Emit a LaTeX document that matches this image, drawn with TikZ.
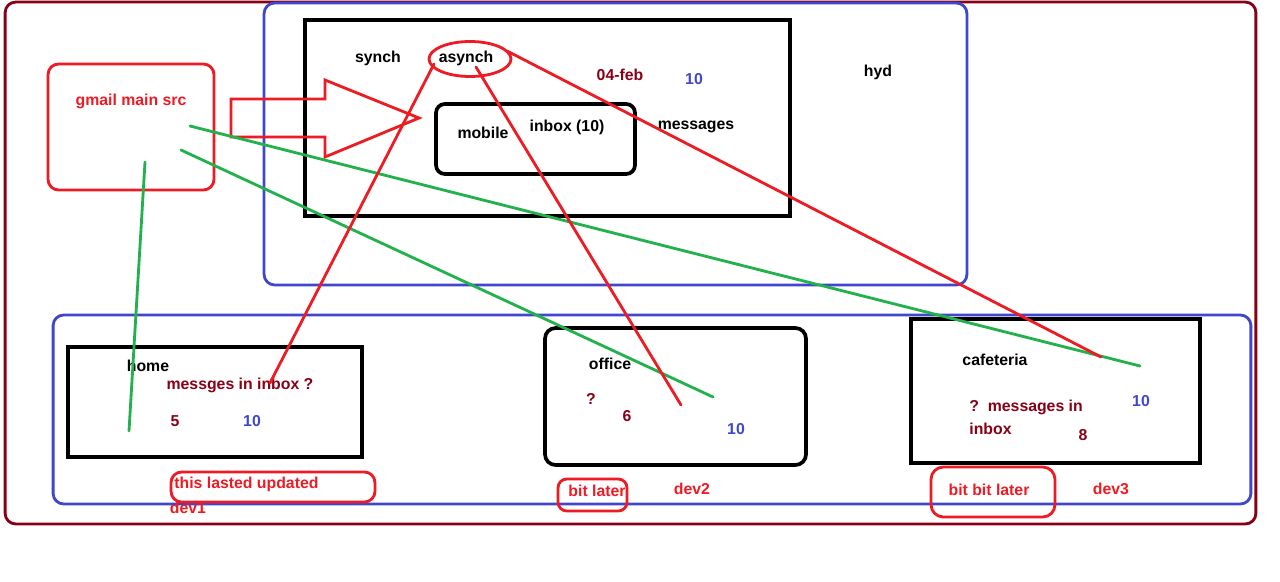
\documentclass[tikz,border=0pt]{standalone}
\usepackage{fontspec}
\setmainfont{Liberation Sans}
\usepackage{tikz}
\usetikzlibrary{shapes.geometric}
\definecolor{darkred}{HTML}{880015}
\definecolor{paintred}{HTML}{ED1C24}
\definecolor{paintblue}{HTML}{3F48CC}
\definecolor{paintgreen}{HTML}{22B14C}
\begin{document}
\begin{tikzpicture}[x=0.02cm, y=-0.02cm, line width=1.6pt,
% common options for boxes:
box/.style = {draw, rectangle, inner sep=0, outer sep=0},
% black boxes are drawn thicker:
blackbox/.style = {box, line width=2.1pt},
% common options for texts:
lbl/.style = {inner sep=0, font=\fontsize{9}{11}\selectfont\bfseries},
% common options for the strokes:
redline/.style = {draw=paintred, line cap=round},
greenline/.style = {draw=paintgreen, line cap=round}]
\useasboundingbox[fill=white] (0,0) rectangle (1280,581);

% frames
\node[box, draw=darkred, rounded corners=6pt, minimum width=25.02cm, minimum height=10.44cm] (outer) at (630.5,263) {};
\node[box, draw=paintblue, rounded corners=6pt, minimum width=14.06cm, minimum height=5.64cm] (hydbox) at (615.5,144) {};
\node[box, draw=paintblue, rounded corners=6pt, minimum width=23.96cm, minimum height=3.78cm] (devbox) at (652,409.5) {};

% hyd
\node[blackbox, minimum width=9.70cm, minimum height=3.92cm] (syncbox) at (547.5,118) {};
\node[blackbox, rounded corners=5pt, minimum width=3.98cm, minimum height=1.40cm] (mobilebox) at (535.5,139) {};
\node[box, draw=paintred, rounded corners=6pt, minimum width=3.32cm, minimum height=2.52cm] (gmailbox) at (131,127) {};
\node[box, draw=paintred, ellipse, minimum width=1.64cm, minimum height=0.70cm] (asyncring) at (470,59) {};
\draw[draw=paintred] (231,99) -- (325,99) -- (325,80) -- (419,118) -- (325,157) -- (325,137) -- (231,137) -- cycle;

\node[lbl, text=paintred] (gmail) at (131,101) {gmail main src};
\node[lbl] (synch) at (378,58) {synch};
\node[lbl] (asynch) at (466,58) {asynch};
\node[lbl, text=darkred] (date) at (620,75) {04-feb};
\node[lbl, text=paintblue] (hydten) at (694,79) {10};
\node[lbl] (hyd) at (878,72) {hyd};
\node[lbl] (mobile) at (483,133) {mobile};
\node[lbl] (inbox) at (567,127) {inbox (10)};
\node[lbl] (messages) at (696,127) {messages};

% home
\node[blackbox, minimum width=5.88cm, minimum height=2.20cm] (homebox) at (215,402) {};
\node[lbl] (home) at (148,366) {home};
\node[lbl, text=darkred] (homeq) at (240,385) {messges in inbox ?};
\node[lbl, text=darkred] (homefive) at (175,421) {5};
\node[lbl, text=paintblue] (hometen) at (252,421) {10};

% office
\node[blackbox, rounded corners=6pt, minimum width=5.22cm, minimum height=2.74cm] (officebox) at (675.5,396.5) {};
\node[lbl] (office) at (610,364) {office};
\node[lbl, text=darkred] (officeq) at (591,399) {?};
\node[lbl, text=darkred] (officesix) at (627,416) {6};
\node[lbl, text=paintblue] (officeten) at (736,429) {10};

% cafeteria
\node[blackbox, minimum width=5.78cm, minimum height=2.88cm] (cafebox) at (1055.5,391) {};
\node[lbl] (cafe) at (995,360) {cafeteria};
\node[lbl, text=darkred, align=left, anchor=north west] (cafeq) at (968,399) {?\ \ messages in\\[2pt]inbox};
\node[lbl, text=darkred] (cafeeight) at (1083,435) {8};
\node[lbl, text=paintblue] (cafeten) at (1141,401) {10};

% notes
\node[box, draw=paintred, rounded corners=6pt, minimum width=4.08cm, minimum height=0.60cm] (lastedbox) at (273,487) {};
\node[lbl, text=paintred, anchor=west] (lasted) at (173,484) {this lasted updated};
\node[lbl, text=paintred] (devone) at (188,508) {dev1};
\node[box, draw=paintred, rounded corners=5pt, minimum width=1.38cm, minimum height=0.64cm] (laterbox) at (592.5,495) {};
\node[lbl, text=paintred] (later) at (597,491) {bit later};
\node[lbl, text=paintred] (devtwo) at (692,489) {dev2};
\node[box, draw=paintred, rounded corners=7pt, minimum width=2.48cm, minimum height=1.00cm] (bitbitbox) at (993,492) {};
\node[lbl, text=paintred] (bitbit) at (989,490) {bit bit later};
\node[lbl, text=paintred] (devthree) at (1111,489) {dev3};

% stroke ends
\coordinate (gA) at (145,162);
\coordinate (gB) at (190,126);
\coordinate (gC) at (181,150);
\coordinate (homeG) at (129,431);
\coordinate (cafeG) at (1140,366);
\coordinate (officeG) at (713,397);
\coordinate (aL) at (434,64);
\coordinate (aM) at (476,67);
\coordinate (aR) at (507,51);
\coordinate (homeR) at (270,383);
\coordinate (officeR) at (681,405);
\coordinate (cafeR) at (1101,357);

\draw[greenline] (gA) -- (homeG);
\draw[greenline] (gB) -- (cafeG);
\draw[greenline] (gC) -- (officeG);
\draw[redline] (aL) -- (homeR);
\draw[redline] (aM) -- (officeR);
\draw[redline] (aR) -- (cafeR);
\end{tikzpicture}
\end{document}
